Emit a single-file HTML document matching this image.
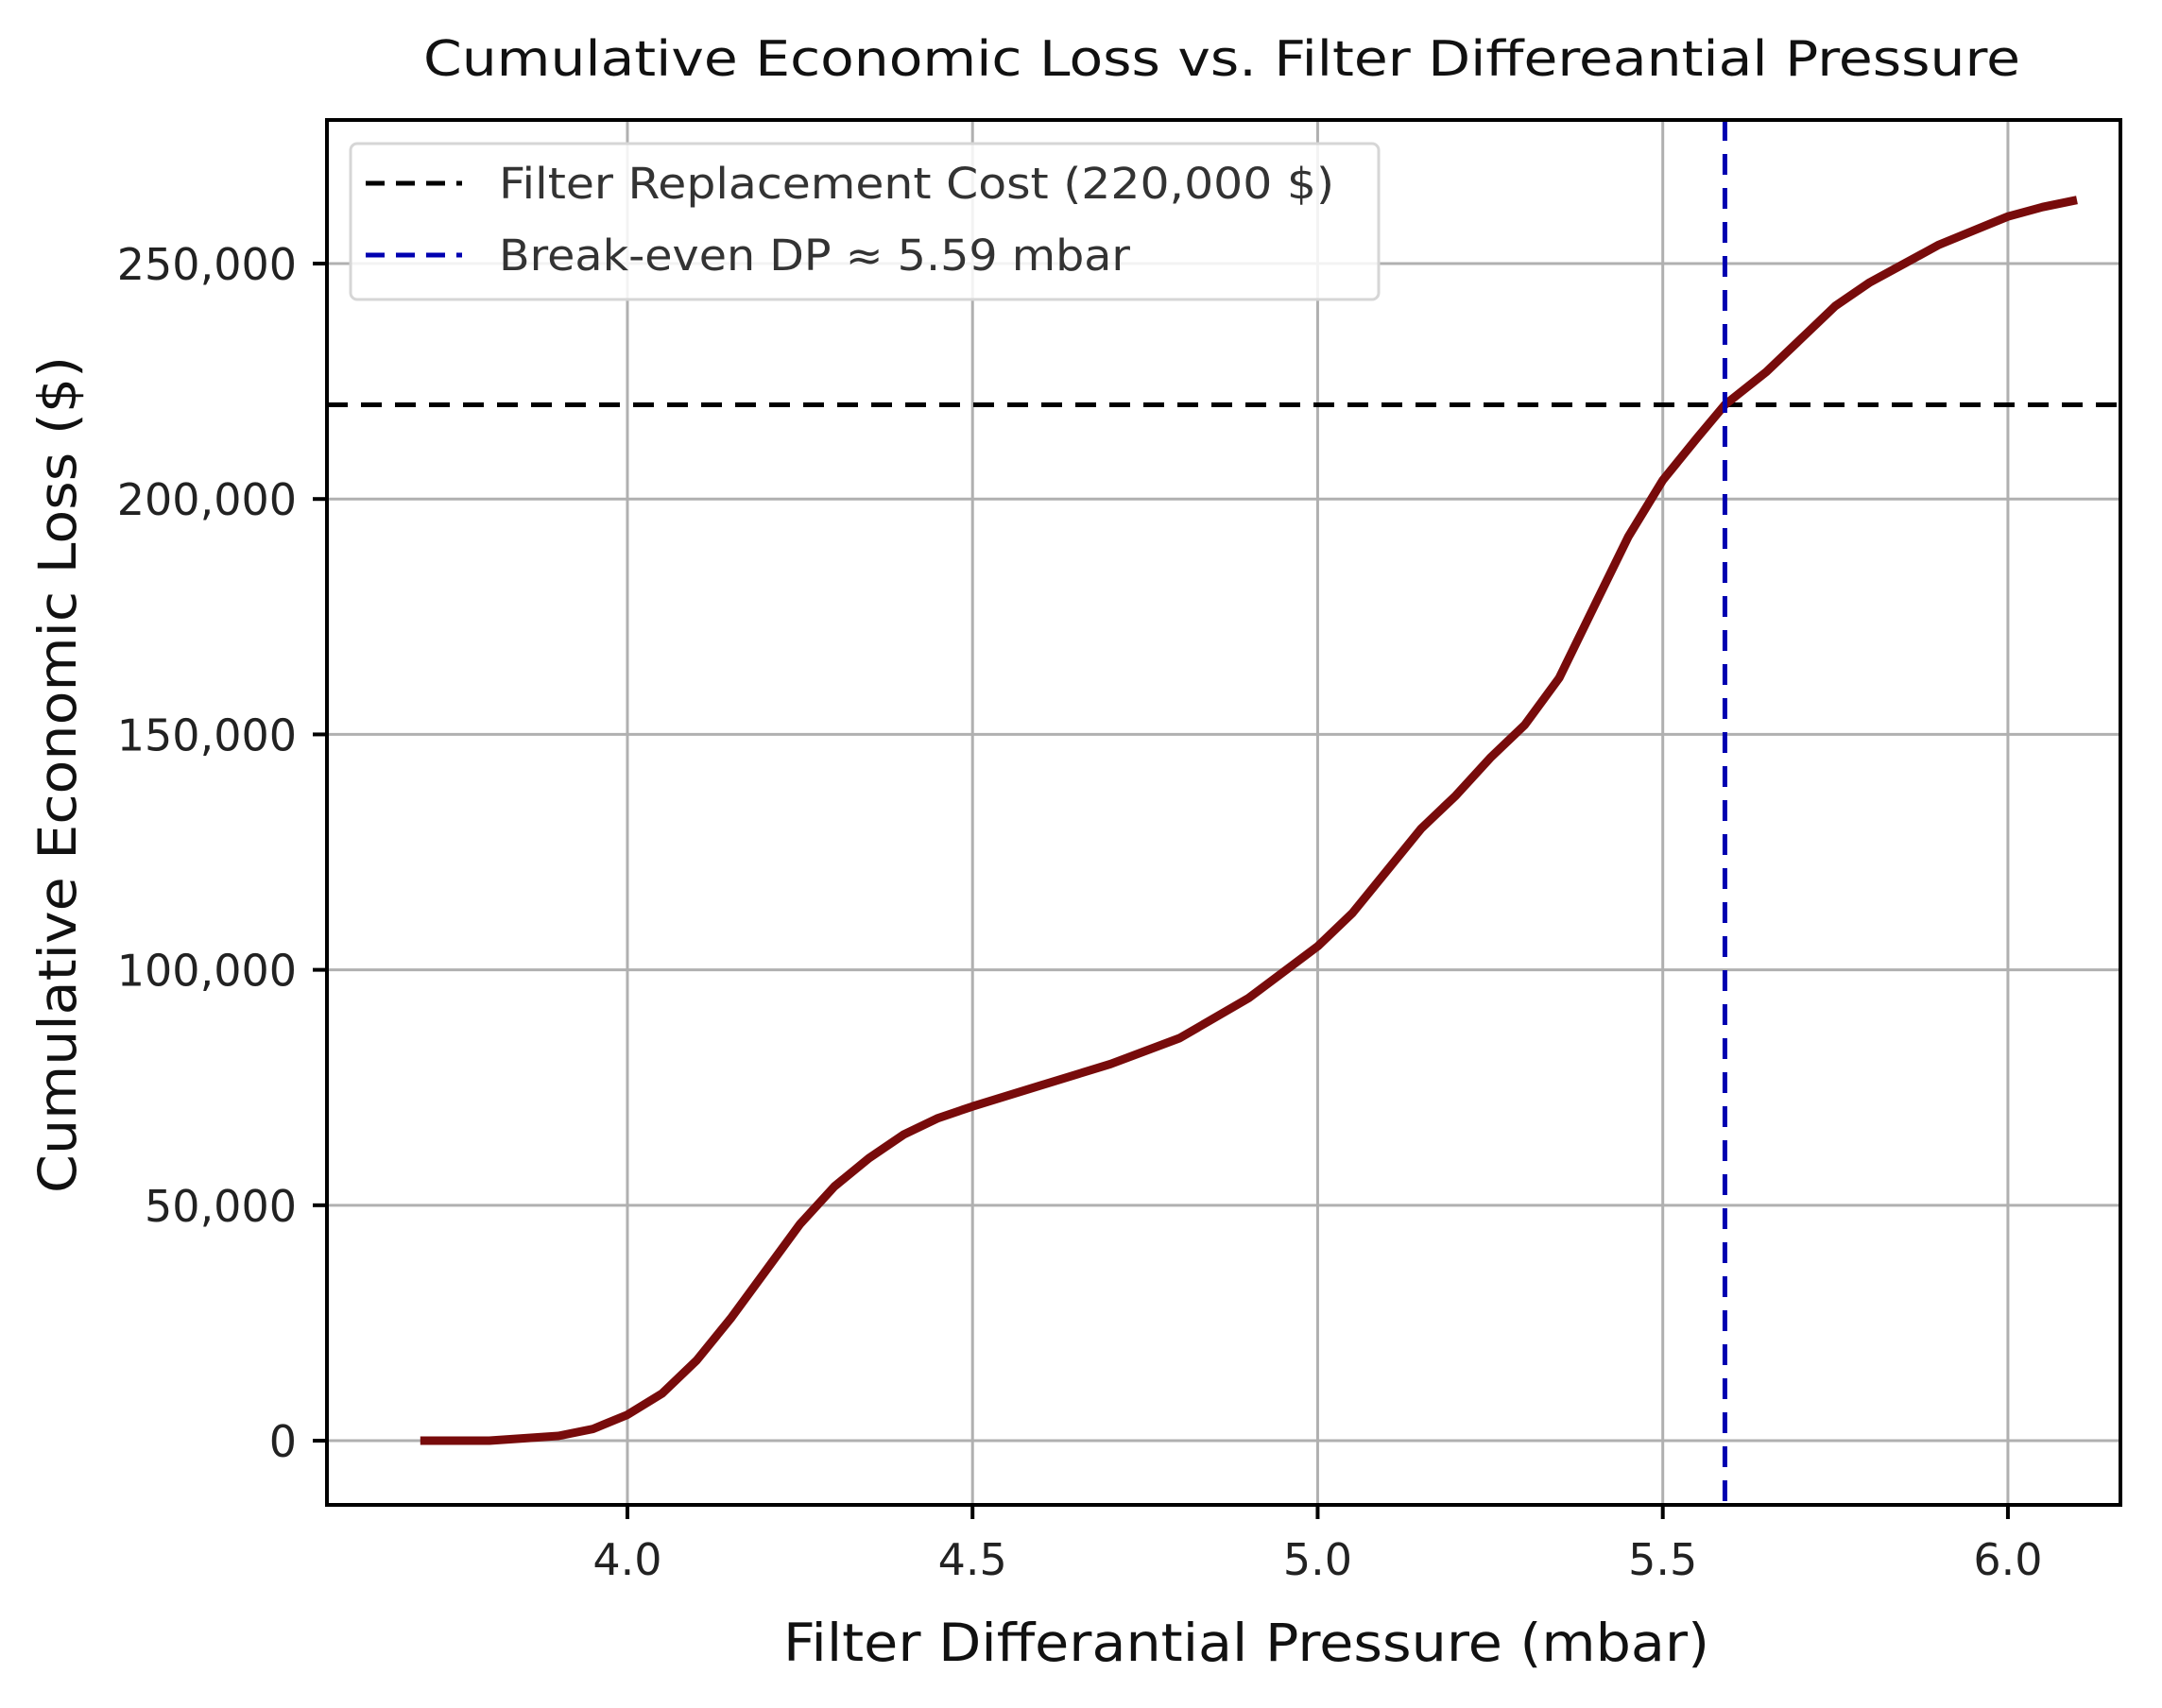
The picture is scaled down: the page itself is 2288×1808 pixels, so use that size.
<!DOCTYPE html>
<html><head><meta charset="utf-8"><style>
html,body{margin:0;padding:0;background:#fff;}
svg{display:block;}
text{font-family:"DejaVu Sans","Liberation Sans",sans-serif;}
</style></head><body>
<svg id="chart" width="2288" height="1808" viewBox="0 0 2288 1808" xmlns="http://www.w3.org/2000/svg">
<rect width="2288" height="1808" fill="#fff"/>
<g id="grid"></g>
<g id="series"></g>
<g id="axes"></g>
<text x="1293" y="80" font-size="52" text-anchor="middle" textLength="1690" lengthAdjust="spacingAndGlyphs" fill="#111">Cumulative Economic Loss vs. Filter Differeantial Pressure</text>
<text x="1319" y="1758" font-size="55" text-anchor="middle" textLength="980" lengthAdjust="spacingAndGlyphs" fill="#111">Filter Differantial Pressure (mbar)</text>
<text transform="translate(80,820) rotate(-90)" font-size="55" text-anchor="middle" textLength="886" lengthAdjust="spacingAndGlyphs" fill="#111">Cumulative Economic Loss  ($)</text>
<g>
<rect x="371" y="152" width="1088" height="165" rx="7" fill="#fff" fill-opacity="0.85" stroke="#d6d6d6" stroke-width="3"/>
<line x1="387" y1="194" x2="489" y2="194" stroke="#000" stroke-width="5" stroke-dasharray="20,12"/>
<text x="528" y="210" font-size="45" textLength="884" lengthAdjust="spacingAndGlyphs" fill="#333">Filter Replacement Cost (220,000 $)</text>
<line x1="387" y1="270" x2="489" y2="270" stroke="#0000b0" stroke-width="5" stroke-dasharray="20,12"/>
<text x="528" y="286" font-size="45" textLength="668" lengthAdjust="spacingAndGlyphs" fill="#333">Break-even DP ≈ 5.59 mbar</text>
</g>
</svg>
<script>
const xValues=[3.70,3.80,3.90,3.95,4.00,4.05,4.10,4.15,4.20,4.25,4.30,4.35,4.40,4.45,4.50,4.60,4.70,4.80,4.90,5.00,5.05,5.10,5.15,5.20,5.25,5.30,5.35,5.40,5.45,5.50,5.55,5.59,5.65,5.70,5.75,5.80,5.85,5.90,5.95,6.00,6.05,6.10];
const lossValues=[0,0,1000,2500,5500,10000,17000,26000,36000,46000,54000,60000,65000,68500,71000,75500,80000,85500,94000,105000,112000,121000,130000,137000,145000,152000,162000,177000,192000,204000,213000,220000,227000,234000,241000,246000,250000,254000,257000,260000,262000,263500];
const xTicks=[4.0,4.5,5.0,5.5,6.0];
const xTickLabels=["4.0","4.5","5.0","5.5","6.0"];
const yTicks=[0,50000,100000,150000,200000,250000];
const yTickLabels=["0","50,000","100,000","150,000","200,000","250,000"];
const replacementCost=[220000];
const breakEvenDP=[5.59];

const L=346,R=2244,T=127,B=1593;
const XMIN=3.5647,XMAX=6.163,YMIN=-13640,YMAX=280500;
function sx(v){return L+(v-XMIN)/(XMAX-XMIN)*(R-L);}
function sy(v){return B-(v-YMIN)/(YMAX-YMIN)*(B-T);}
const NS="http://www.w3.org/2000/svg";
function mk(tag,attrs,parent){const e=document.createElementNS(NS,tag);for(const k in attrs)e.setAttribute(k,attrs[k]);parent.appendChild(e);return e;}
const grid=document.getElementById('grid'),axes=document.getElementById('axes'),series=document.getElementById('series');

xTicks.forEach((t,i)=>{
  const g=mk('line',{x1:sx(t),x2:sx(t),y1:T,y2:B,stroke:'#b0b0b0','stroke-width':3},grid);
  
  
  const tk=mk('line',{x1:sx(t),x2:sx(t),y1:B,y2:B+15,stroke:'#000','stroke-width':4},axes);
  
  
  const lb=mk('text',{x:sx(t),y:B+74,'font-size':46,'text-anchor':'middle',fill:'#222'},axes);
  lb.textContent=xTickLabels[i];
  
  
});
yTicks.forEach((t,i)=>{
  const g=mk('line',{x1:L,x2:R,y1:sy(t),y2:sy(t),stroke:'#b0b0b0','stroke-width':3},grid);
  
  
  const tk=mk('line',{x1:L-15,x2:L,y1:sy(t),y2:sy(t),stroke:'#000','stroke-width':4},axes);
  
  
  const lb=mk('text',{x:L-32,y:sy(t)+17,'font-size':46,'text-anchor':'end',fill:'#222'},axes);
  lb.textContent=yTickLabels[i];
  
  
});

const hl=mk('line',{x1:L,x2:R,y1:sy(replacementCost[0]),y2:sy(replacementCost[0]),stroke:'#000','stroke-width':5,'stroke-dasharray':'22,14'},series);



let d='';
xValues.forEach((x,i)=>{d+=(i?'L':'M')+sx(x).toFixed(1)+','+sy(lossValues[i]).toFixed(1);});
const p=mk('path',{d:d,fill:'none',stroke:'#780b0b','stroke-width':9,'stroke-linejoin':'round'},series);



const vl=mk('line',{x1:sx(breakEvenDP[0]),x2:sx(breakEvenDP[0]),y1:T,y2:B,stroke:'#0000b0','stroke-width':5,'stroke-dasharray':'22,14'},series);



const fr=mk('rect',{x:L,y:T,width:R-L,height:B-T,fill:'none',stroke:'#000','stroke-width':4},axes);


</script>
</body></html>
